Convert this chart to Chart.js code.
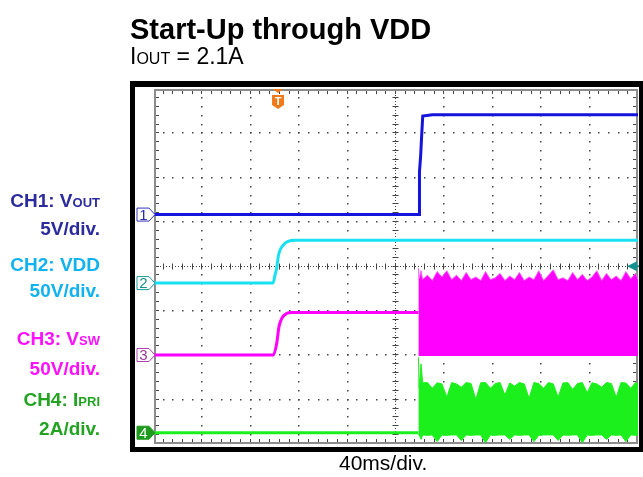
<!DOCTYPE html>
<html>
<head>
<meta charset="utf-8">
<script src="https://cdn.jsdelivr.net/npm/chart.js@4.4.1/dist/chart.umd.min.js"></script>
<style>
html, body { margin: 0; padding: 0; background: #fff; }
#wrap { position: relative; width: 643px; height: 477px; overflow: hidden; font-family: "Liberation Sans", Arial, sans-serif; }
#c { position: absolute; left: 0; top: 0; }
.t { position: absolute; white-space: nowrap; line-height: 1; color: #000; }
.lab { position: absolute; right: 543px; font-weight: bold; font-size: 19px; line-height: 1; white-space: nowrap; text-align: right; }
.sm { font-size: 13px; }
</style>
</head>
<body>
<div id="wrap">
  <canvas id="c" width="643" height="477"></canvas>
  <div class="t" style="left:130px;top:15px;font-size:29px;font-weight:bold;">Start-Up through VDD</div>
  <div class="t" style="left:130px;top:45px;font-size:23px;">I<span style="font-size:16px">OUT</span> = 2.1A</div>

  <div class="lab" style="top:191px;color:#2b2b9e;">CH1: V<span class="sm">OUT</span></div>
  <div class="lab" style="top:219px;color:#2b2b9e;">5V/div.</div>
  <div class="lab" style="top:255px;color:#10b2f0;">CH2: VDD</div>
  <div class="lab" style="top:281px;color:#10b2f0;">50V/div.</div>
  <div class="lab" style="top:329px;color:#ff10ff;">CH3: V<span class="sm">SW</span></div>
  <div class="lab" style="top:359px;color:#ff10ff;">50V/div.</div>
  <div class="lab" style="top:390px;color:#22a422;">CH4: I<span class="sm">PRI</span></div>
  <div class="lab" style="top:419px;color:#22a422;">2A/div.</div>

  <div class="t" style="left:339px;top:452px;font-size:21px;">40ms/div.</div>
</div>
<script>
// time in ms (40 ms/div), values in V or A

// CH1: Vout, 5V/div
const voutT = [0, 219.2, 219.4, 220.4, 221.2, 222.1, 230, 400];
const voutV = [0, 0, 4.8, 6.7, 8.9, 11.1, 11.25, 11.25];

// CH2: VDD, 50V/div
const vddT = [0, 98.3, 100, 101.4, 102.7, 104.1, 106.9, 110.7, 116.5, 400];
const vddV = [0, 0, 9, 17, 30, 37, 43, 47, 48.4, 48.4];

// CH3: Vsw before switching starts, 50V/div
const vswT = [0, 98.6, 101.4, 103.3, 105.5, 109.7, 113.8, 218.4];
const vswV = [0, 0, 13, 32, 41, 47, 48, 48];

// CH4: Ipri before switching starts, 2A/div
const ipriT = [0, 218.5];
const ipriV = [0, 0];

// switching region (envelopes)
const swT = [218.5, 219.2, 220.7, 222, 226, 230, 234, 238, 242, 246, 250, 254, 258, 262, 266, 270,
  274, 278, 282, 286, 290, 294, 298, 302, 306, 310, 314, 318, 322, 326, 330, 334, 338, 342, 346,
  350, 354, 358, 362, 366, 370, 374, 378, 382, 386, 390, 394, 398, 400];
const vswPeak = [98, 86, 95, 85, 90, 84, 94, 88, 95, 85, 90, 84, 93, 85, 88, 84, 94, 85, 87, 92,
  84, 89, 85, 93, 84, 88, 85, 95, 84, 90, 96, 85, 87, 84, 93, 85, 91, 84, 88, 95, 84, 92, 85, 89,
  84, 94, 86, 92, 85];
const vswFloor = -1.2;
const ipriPeak = [3.4, 2.0, 3.1, 2.25, 2.26, 2.0, 2.25, 2.2, 1.6, 2.26, 2.2, 2.05, 2.26, 2.22, 1.5,
  2.25, 2.26, 2.0, 2.22, 2.26, 1.7, 2.24, 2.1, 2.26, 2.2, 1.55, 2.26, 2.22, 2.0, 2.26, 2.2, 1.6, 2.24,
  2.26, 1.95, 2.22, 2.26, 1.8, 2.25, 2.2, 2.05, 2.26, 2.22, 1.6, 2.26, 2.24, 2.0, 2.26, 2.2];
const ipriLow = [-0.1, -0.1, -0.3, -0.1, -0.12, -0.1, -0.4, -0.1, -0.12, -0.1,
  -0.1, -0.35, -0.1, -0.12, -0.1, -0.1, -0.45, -0.1, -0.12, -0.1,
  -0.1, -0.3, -0.1, -0.12, -0.1, -0.1, -0.4, -0.12, -0.1, -0.1,
  -0.1, -0.35, -0.1, -0.12, -0.1, -0.1, -0.45, -0.1, -0.12, -0.1,
  -0.1, -0.3, -0.1, -0.12, -0.1, -0.4, -0.1, -0.12, -0.1];

// channel ground markers (divisions from bottom) and volts/amps per div
const chOffset = { 1: 5.17, 2: 3.626, 3: 2.005, 4: 0.2545 };
const chScale = { 1: 5, 2: 50, 3: 50, 4: 2 };
const triggerMs = 102.5;
const triggerLevelV = 19; // on CH2

function pts(ts, vs, ch) {
  return ts.map((t, i) => ({ x: t, y: chOffset[ch] + vs[i] / chScale[ch] }));
}
function lvl(ch, v) { return chOffset[ch] + v / chScale[ch]; }

function chanMarker(ctx, a, y, label, stroke, fill, txt) {
  const x0 = a.left - 17, x1 = a.left - 5, x2 = a.left + 1, h = 6.5;
  ctx.beginPath();
  ctx.moveTo(x0, y - h); ctx.lineTo(x1, y - h); ctx.lineTo(x2, y);
  ctx.lineTo(x1, y + h); ctx.lineTo(x0, y + h); ctx.closePath();
  ctx.fillStyle = fill; ctx.fill();
  ctx.strokeStyle = stroke; ctx.lineWidth = 1; ctx.stroke();
  ctx.fillStyle = txt;
  ctx.font = '15px "Liberation Sans", Arial, sans-serif';
  ctx.textAlign = 'center'; ctx.textBaseline = 'middle';
  ctx.fillText(label, x0 + 6.5, y + 1);
}

const scopePlugin = {
  id: 'scope',
  beforeDraw(chart) {
    const { ctx, chartArea: a } = chart;
    ctx.save();
    ctx.fillStyle = '#fff';
    ctx.fillRect(0, 0, chart.width, chart.height);
    // black bezel
    ctx.fillStyle = '#000';
    ctx.fillRect(a.left - 24, a.top - 8, chart.width - (a.left - 24), a.bottom - a.top + 16);
    ctx.fillStyle = '#fff';
    ctx.fillRect(a.left - 19, a.top - 2, a.right - a.left + 20, a.bottom - a.top + 5);
    ctx.restore();
  },
  beforeDatasetsDraw(chart) {
    const { ctx, chartArea: a, scales: { x, y } } = chart;
    ctx.save();
    ctx.fillStyle = '#444';
    // dotted division lines
    for (let i = 1; i < 10; i++) {
      if (i === 5) continue;
      const px = Math.round(x.getPixelForValue(i * 40));
      for (let j = 1; j < 40; j++) {
        ctx.fillRect(px - 1, Math.round(y.getPixelForValue(j / 5)) - 1, 1.5, 1.5);
      }
    }
    for (let j = 1; j < 8; j++) {
      if (j === 4) continue;
      const py = Math.round(y.getPixelForValue(j));
      for (let i = 1; i < 50; i++) {
        ctx.fillRect(Math.round(x.getPixelForValue(i * 8)) - 1, py - 1, 1.5, 1.5);
      }
    }
    // centre lines with minor ticks
    const cx = Math.round(x.getPixelForValue(200)) - 0.5;
    const cy = Math.round(y.getPixelForValue(4)) - 0.5;
    ctx.strokeStyle = '#444';
    ctx.lineWidth = 1;
    ctx.setLineDash([1, 2]);
    ctx.beginPath();
    ctx.moveTo(a.left, cy); ctx.lineTo(a.right, cy);
    ctx.moveTo(cx, a.top); ctx.lineTo(cx, a.bottom);
    ctx.stroke();
    ctx.setLineDash([]);
    ctx.beginPath();
    for (let i = 1; i < 50; i++) {
      const px = Math.round(x.getPixelForValue(i * 8)) - 0.5;
      ctx.moveTo(px, cy - 3); ctx.lineTo(px, cy + 3);
      ctx.moveTo(px, a.top + 2); ctx.lineTo(px, a.top + 5);
      ctx.moveTo(px, a.bottom - 2); ctx.lineTo(px, a.bottom - 5);
    }
    for (let j = 1; j < 40; j++) {
      const py = Math.round(y.getPixelForValue(j / 5)) - 0.5;
      ctx.moveTo(cx - 3, py); ctx.lineTo(cx + 3, py);
      ctx.moveTo(a.left + 2, py); ctx.lineTo(a.left + 5, py);
      ctx.moveTo(a.right - 2, py); ctx.lineTo(a.right - 5, py);
    }
    ctx.stroke();
    // graticule border
    ctx.strokeStyle = '#8c8c8c';
    ctx.lineWidth = 2;
    ctx.strokeRect(a.left + 1, a.top + 1, a.right - a.left - 2, a.bottom - a.top - 2);
    ctx.restore();
  },
  afterDatasetsDraw(chart) {
    const { ctx, chartArea: a, scales: { x, y } } = chart;
    ctx.save();
    chanMarker(ctx, a, y.getPixelForValue(chOffset[1]), '1', '#3434c0', '#fff', '#2a2aa8');
    chanMarker(ctx, a, y.getPixelForValue(chOffset[2]), '2', '#1a9c9c', '#fff', '#1a9090');
    chanMarker(ctx, a, y.getPixelForValue(chOffset[3]), '3', '#b040b0', '#fff', '#9a3a9a');
    chanMarker(ctx, a, y.getPixelForValue(chOffset[4]), '4', '#1e9a1e', '#1e9a1e', '#fff');
    // trigger position
    const tx = x.getPixelForValue(triggerMs);
    ctx.fillStyle = '#f07a1a';
    ctx.beginPath();
    ctx.moveTo(tx - 5, a.top); ctx.lineTo(tx + 5, a.top); ctx.lineTo(tx, a.top + 4); ctx.closePath();
    ctx.fill();
    ctx.beginPath();
    ctx.moveTo(tx - 6, a.top + 6); ctx.lineTo(tx + 6, a.top + 6);
    ctx.lineTo(tx + 6, a.top + 16); ctx.lineTo(tx, a.top + 20); ctx.lineTo(tx - 6, a.top + 16);
    ctx.closePath(); ctx.fill();
    ctx.fillStyle = '#fff';
    ctx.font = 'bold 11px "Liberation Sans", Arial, sans-serif';
    ctx.textAlign = 'center'; ctx.textBaseline = 'middle';
    ctx.fillText('T', tx, a.top + 12.5);
    // trigger level
    const ty = y.getPixelForValue(lvl(2, triggerLevelV));
    ctx.fillStyle = '#14928f';
    ctx.beginPath();
    ctx.moveTo(a.right - 11, ty); ctx.lineTo(a.right - 1, ty - 5); ctx.lineTo(a.right - 1, ty + 5);
    ctx.closePath(); ctx.fill();
    ctx.fillRect(a.right - 4, ty - 1, 5, 2);
    ctx.restore();
  }
};

new Chart(document.getElementById('c'), {
  type: 'line',
  data: {
    datasets: [
      { data: pts(voutT, voutV, 1), borderColor: '#1414dc', borderWidth: 3 },
      { data: pts(vddT, vddV, 2), borderColor: '#18e2f2', borderWidth: 3, cubicInterpolationMode: 'monotone' },
      { data: pts(vswT, vswV, 3), borderColor: '#ff00ff', borderWidth: 3, cubicInterpolationMode: 'monotone' },
      { data: pts(swT, vswPeak, 3), borderColor: '#ff5cff', borderWidth: 1,
        backgroundColor: '#ff00ff', fill: { value: lvl(3, vswFloor) } },
      { data: pts(ipriT, ipriV, 4), borderColor: '#1cf01c', borderWidth: 3 },
      { data: pts(swT, ipriPeak, 4), borderColor: '#1cf01c', borderWidth: 1,
        backgroundColor: '#1cf01c', fill: '+1' },
      { data: pts(swT, ipriLow, 4), borderColor: '#1cf01c', borderWidth: 1, fill: false }
    ]
  },
  options: {
    responsive: false,
    animation: false,
    layout: { padding: { left: 154, top: 89, right: 5, bottom: 33 } },
    scales: {
      x: { type: 'linear', min: 0, max: 400, display: false },
      y: { type: 'linear', min: 0, max: 8, display: false }
    },
    elements: { point: { radius: 0 }, line: { tension: 0 } },
    plugins: { legend: { display: false }, tooltip: { enabled: false } }
  },
  plugins: [scopePlugin]
});
</script>
</body>
</html>
